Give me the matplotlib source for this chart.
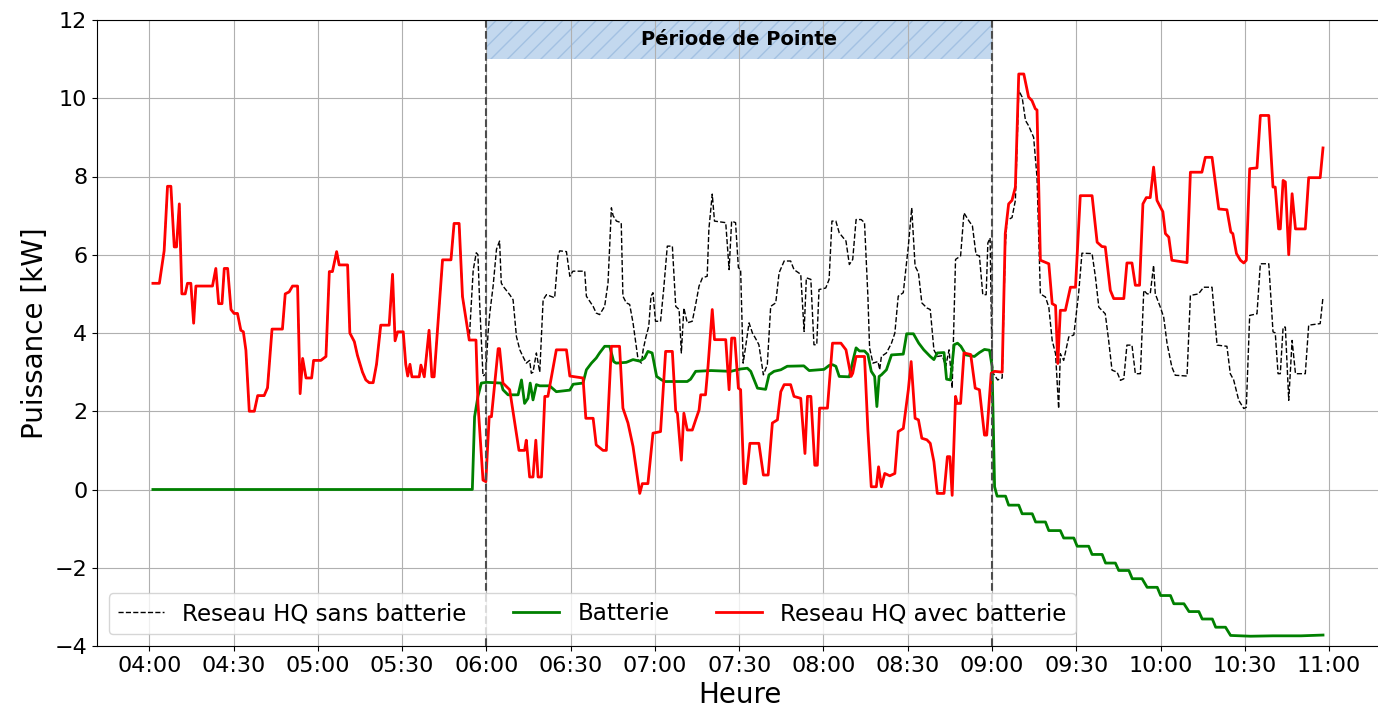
"""
Puissance appelée sur le réseau HQ avec et sans batterie (04:00 - 11:00).
Les valeurs ont été relevées à la main sur le graphique d'origine.
"""

import matplotlib

matplotlib.use("Agg")
import matplotlib.dates as mdates
import matplotlib.pyplot as plt
import pandas as pd

DAY_START = pd.Timestamp("2024-01-01 04:00")
PEAK_START_MIN = 120  # 06:00
PEAK_END_MIN = 300  # 09:00

# Avant la pointe, la batterie est au repos : les deux courbes réseau se confondent.
pre_peak_min = [
    1.3, 3.6, 5.3, 6.5, 7.7, 8.9, 9.7, 10.7, 11.6, 12.8, 13.6, 14.8, 15.8, 16.6, 22.5,
    23.7, 24.7, 25.9, 26.7, 27.9, 29.1, 30.2, 31.4, 32.6, 33.5, 34.4, 35.6, 37.4, 38.6,
    40.9, 42.1, 43.7, 47.4, 48.4, 49.8, 51.0, 52.8, 53.7, 54.6, 55.8, 57.8, 58.5, 61.1,
    62.9, 64.1, 65.2, 66.7, 67.6, 70.6, 71.4, 73.0, 74.1, 75.9, 77.1, 78.3, 79.7, 80.9,
    82.4, 85.4, 86.6, 87.5, 88.4, 90.4, 91.3, 92.0, 92.8, 93.5, 94.3, 96.1, 96.7, 97.9,
    99.6, 100.6, 101.4, 103.0, 104.4, 107.4, 108.5, 110.3, 111.5, 113.9,
]
pre_peak_kw = [
    5.27, 5.27, 6.1, 7.75, 7.75, 6.2, 6.2, 7.3, 5.0, 5.0, 5.27, 5.27, 4.25, 5.2, 5.2,
    5.65, 4.75, 4.75, 5.65, 5.65, 4.6, 4.5, 4.5, 4.07, 4.03, 3.56, 2.0, 2.0, 2.4,
    2.4, 2.6, 4.1, 4.1, 5.0, 5.05, 5.2, 5.2, 2.45, 3.35, 2.85, 2.85, 3.3, 3.3,
    3.4, 5.57, 5.57, 6.08, 5.74, 5.74, 4.0, 3.78, 3.43, 3.0, 2.8, 2.73, 2.73, 3.2,
    4.2, 4.2, 5.5, 3.8, 4.03, 4.03, 3.2, 2.9, 3.2, 2.88, 2.88, 2.88, 3.18, 2.88,
    4.07, 2.88, 2.88, 4.46, 5.87, 5.87, 6.8, 6.8, 4.93, 3.82,
]

# Reseau HQ sans batterie (après 05:54)
sans_min = [
    115.3, 116.4, 117.0, 117.6, 118.8, 119.8, 120.6, 121.2, 122.4, 123.6, 124.7, 125.3,
    125.9, 128.3, 129.5, 130.7, 131.9, 133.0, 134.2, 135.4, 136.0, 136.6, 137.8, 139.0,
    140.2, 141.4, 144.3, 145.5, 146.1, 148.5, 149.7, 150.8, 155.0, 155.6, 158.0, 159.1,
    160.3, 162.1, 163.3, 164.5, 165.1, 166.3, 168.0, 168.6, 169.8, 171.0, 172.2, 174.0,
    175.2, 175.8, 176.8, 177.8, 178.6, 179.3, 180.2, 182.0, 183.1, 184.4, 186.2, 187.4,
    188.6, 189.4, 190.3, 191.5, 193.3, 194.5, 195.7, 196.9, 198.6, 199.2, 200.4, 201.2,
    205.2, 206.4, 207.3, 208.7, 209.7, 210.5, 211.4, 212.3, 213.5, 214.7, 215.9, 217.0,
    218.6, 220.0, 221.2, 223.0, 224.2, 226.0, 228.3, 229.5, 231.9, 233.1, 233.9, 235.5,
    236.6, 237.6, 238.4, 240.8, 242.0, 243.0, 244.4, 245.6, 248.0, 249.2, 250.4, 251.6,
    253.4, 254.6, 255.8, 256.4, 257.6, 259.4, 260.0, 260.6, 262.4, 264.2, 265.4, 266.6,
    268.4, 270.2, 271.4, 272.6, 273.8, 275.0, 276.8, 278.0, 279.3, 280.5, 282.3, 283.5,
    284.7, 285.8, 287.0, 288.8, 290.0, 291.8, 293.0, 294.3, 295.5, 296.7, 297.9, 298.5,
    299.3, 300.0, 300.5, 302.0, 303.6, 304.7, 305.3, 307.1, 308.3, 309.5, 310.7, 311.9,
    313.0, 314.8, 316.0, 317.2, 319.0, 320.2, 321.4, 322.6, 323.7, 324.3, 325.5, 327.3,
    329.1, 330.8, 332.0, 335.6, 336.8, 338.0, 340.3, 341.5, 342.7, 344.5, 345.7, 346.9,
    348.0, 349.8, 351.0, 352.8, 354.0, 355.2, 356.3, 357.5, 358.1, 359.9, 361.1, 362.3,
    364.0, 365.2, 369.4, 370.6, 373.5, 375.3, 378.3, 380.1, 383.6, 384.8, 386.0, 387.8,
    389.6, 390.5, 391.7, 394.3, 395.5, 398.5, 400.0, 400.8, 401.8, 402.6, 403.6, 404.4,
    405.6, 406.8, 408.0, 411.5, 412.7, 416.8, 417.8,
]
sans_kw = [
    5.6, 6.05, 6.0, 4.77, 2.9, 2.95, 4.0, 4.5, 5.2, 6.14, 6.35, 5.28,
    5.2, 4.98, 4.85, 3.91, 3.57, 3.4, 3.23, 3.3, 2.97, 3.0, 3.49, 3.0,
    4.85, 4.98, 4.9, 5.97, 6.1, 6.08, 5.45, 5.58, 5.58, 4.94, 4.68, 4.51,
    4.47, 4.68, 5.28, 7.2, 7.0, 6.86, 6.82, 4.94, 4.77, 4.73, 4.26, 3.32,
    3.23, 3.57, 3.9, 4.17, 4.94, 5.03, 4.3, 4.3, 5.11, 6.22, 6.22, 4.68,
    4.6, 3.49, 4.64, 4.26, 4.3, 4.73, 5.2, 5.41, 5.45, 6.65, 7.55, 6.86,
    6.82, 5.62, 6.86, 6.82, 5.67, 5.62, 3.23, 3.66, 4.26, 4.0, 3.85, 3.7,
    2.93, 3.19, 4.68, 4.77, 5.54, 5.84, 5.84, 5.62, 5.5, 4.04, 5.41, 5.37,
    3.7, 3.7, 5.11, 5.15, 5.37, 6.86, 6.86, 6.56, 6.35, 5.75, 5.88, 6.9,
    6.9, 6.82, 4.94, 3.62, 3.23, 3.27, 3.06, 3.4, 3.49, 3.74, 4.0, 4.94,
    5.03, 6.22, 7.2, 5.71, 5.54, 4.77, 4.64, 4.6, 3.57, 3.4, 3.42, 3.15,
    3.57, 2.59, 5.88, 5.97, 7.07, 6.86, 6.74, 6.0, 5.97, 4.98, 4.98, 6.3,
    6.43, 3.2, 2.96, 2.8, 2.85, 6.2, 6.88, 6.95, 7.39, 10.2, 10.03, 9.43,
    9.3, 9.0, 7.98, 5.0, 4.92, 4.66, 3.81, 3.47, 2.07, 3.47, 3.3, 3.9,
    3.95, 5.0, 6.04, 6.03, 5.43, 4.66, 4.49, 3.81, 3.05, 3.0, 2.79, 2.83,
    3.69, 3.69, 2.96, 2.96, 5.09, 5.0, 5.0, 5.73, 5.0, 4.66, 4.4, 3.73,
    3.13, 2.92, 2.9, 4.96, 5.0, 5.17, 5.17, 3.69, 3.66, 2.96, 2.8, 2.28,
    2.07, 2.1, 4.45, 4.49, 5.77, 5.77, 4.03, 4.0, 2.96, 2.96, 4.15, 4.15,
    2.28, 3.81, 2.96, 2.96, 4.2, 4.24, 4.92,
]

# Batterie (positif = décharge, négatif = recharge)
batterie_min = [
    1.3, 115.0, 115.8, 117.0, 118.2, 120.0, 125.3, 125.9, 127.7, 131.3, 132.5, 133.6,
    134.8, 135.6, 136.6, 137.8, 139.0, 142.5, 144.9, 149.7, 150.9, 154.4, 155.6, 157.4,
    159.1, 160.3, 162.1, 163.9, 165.3, 166.2, 169.8, 172.2, 174.6, 176.3, 177.5, 179.0,
    180.6, 182.4, 183.6, 191.5, 192.7, 194.5, 200.0, 207.0, 210.5, 212.9, 214.1, 216.5,
    219.4, 220.6, 222.4, 224.8, 227.1, 233.0, 234.9, 240.2, 242.0, 243.2, 244.4, 245.6,
    249.2, 250.4, 251.6, 252.8, 254.6, 255.8, 257.0, 258.2, 259.0, 259.8, 260.6, 262.4,
    264.2, 268.4, 269.6, 272.0, 273.9, 275.7, 278.0, 279.3, 280.5, 282.9, 283.8, 285.2,
    286.5, 287.7, 288.9, 290.7, 293.7, 295.5, 297.3, 299.1, 300.0, 300.9, 301.8, 304.8,
    305.9, 309.5, 310.7, 314.3, 315.5, 319.0, 320.2, 324.3, 325.5, 329.1, 330.3, 334.4,
    335.6, 339.2, 340.4, 343.9, 345.1, 348.7, 349.9, 353.4, 355.2, 358.8, 360.0, 363.5,
    364.7, 368.3, 370.1, 373.6, 374.8, 378.4, 379.6, 383.1, 384.9, 392.0, 400.0, 410.0,
    417.8,
]
batterie_kw = [
    0.0, 0.0, 1.86, 2.38, 2.72, 2.74, 2.72, 2.55, 2.42, 2.42, 2.8, 2.2,
    2.33, 2.72, 2.29, 2.68, 2.65, 2.65, 2.5, 2.54, 2.69, 2.72, 3.06, 3.23,
    3.36, 3.49, 3.66, 3.66, 3.27, 3.23, 3.25, 3.32, 3.28, 3.36, 3.53, 3.49,
    2.89, 2.8, 2.76, 2.76, 2.82, 3.02, 3.04, 3.02, 3.08, 3.1, 3.02, 2.59,
    2.56, 2.93, 3.02, 3.06, 3.15, 3.16, 3.04, 3.07, 3.17, 3.19, 3.15, 2.89,
    2.88, 3.27, 3.62, 3.54, 3.54, 3.45, 3.02, 2.89, 2.12, 2.89, 2.93, 3.06,
    3.44, 3.46, 3.98, 3.98, 3.74, 3.57, 3.4, 3.32, 3.49, 3.5, 2.82, 2.8,
    3.7, 3.74, 3.66, 3.44, 3.4, 3.5, 3.58, 3.56, 3.15, 0.07, -0.17, -0.17,
    -0.4, -0.4, -0.62, -0.62, -0.83, -0.83, -1.05, -1.05, -1.24, -1.24, -1.45, -1.45,
    -1.66, -1.66, -1.88, -1.88, -2.07, -2.07, -2.28, -2.28, -2.5, -2.5, -2.71, -2.71,
    -2.92, -2.92, -3.12, -3.12, -3.31, -3.31, -3.52, -3.52, -3.73, -3.75, -3.74, -3.74,
    -3.72,
]

# Reseau HQ avec batterie (après 05:54)
avec_min = [
    116.3, 117.0, 118.8, 119.8, 121.0, 121.8, 124.2, 124.7, 125.9, 128.3, 130.1, 131.6,
    133.6, 134.2, 135.4, 136.6, 137.6, 138.4, 139.6, 140.8, 141.9, 144.9, 148.5, 149.7,
    154.4, 155.4, 158.0, 159.1, 161.5, 162.7, 164.5, 167.4, 168.6, 170.4, 172.2, 174.6,
    175.5, 177.5, 179.3, 182.0, 183.8, 186.2, 187.4, 188.0, 189.4, 190.3, 191.5, 193.3,
    194.5, 195.7, 196.3, 198.0, 198.9, 200.4, 201.2, 205.2, 206.4, 207.3, 208.4, 209.7,
    210.5, 211.7, 212.3, 213.8, 217.0, 218.6, 220.3, 221.8, 223.6, 224.8, 226.0, 228.3,
    229.5, 231.9, 233.4, 234.3, 235.5, 236.9, 237.8, 238.6, 241.4, 243.2, 246.2, 248.0,
    249.8, 250.4, 251.6, 254.6, 255.8, 257.0, 258.8, 259.6, 260.6, 261.8, 263.6, 265.4,
    266.6, 268.4, 270.2, 271.2, 272.6, 273.8, 275.0, 276.8, 278.0, 279.3, 280.5, 282.9,
    284.1, 285.0, 285.8, 287.0, 287.6, 288.8, 290.0, 292.4, 294.0, 295.5, 297.3, 298.1,
    299.7, 300.9, 303.6, 304.7, 305.9, 307.1, 308.3, 309.5, 311.3, 313.0, 314.2, 315.4,
    316.0, 317.2, 320.2, 321.4, 322.6, 323.4, 324.3, 326.1, 327.9, 329.7, 331.4, 335.6,
    337.4, 339.1, 340.3, 342.1, 343.3, 346.9, 348.0, 349.8, 351.0, 352.5, 353.7, 354.9,
    356.3, 357.5, 358.7, 359.9, 360.8, 361.7, 362.9, 364.0, 369.4, 370.6, 374.7, 375.9,
    378.3, 380.7, 383.6, 385.0, 385.7, 387.0, 388.4, 389.6, 390.5, 391.7, 394.3, 395.5,
    398.5, 400.0, 400.8, 402.0, 402.6, 403.6, 404.4, 405.6, 406.8, 408.0, 411.5, 412.7,
    416.8, 417.8,
]
avec_kw = [
    3.82, 2.2, 0.24, 0.2, 1.86, 1.86, 3.6, 3.6, 2.72, 2.55, 1.7, 1.0,
    1.0, 1.26, 0.32, 0.32, 1.26, 0.32, 0.32, 2.38, 2.38, 3.57, 3.57, 2.9,
    2.85, 1.82, 1.82, 1.14, 1.0, 1.0, 3.66, 3.66, 2.08, 1.7, 1.1, -0.1,
    0.15, 0.15, 1.44, 1.48, 3.53, 3.53, 2.0, 1.95, 0.75, 1.95, 1.52, 1.52,
    1.78, 2.03, 2.42, 2.42, 3.15, 4.6, 3.83, 3.83, 2.55, 3.87, 3.87, 2.59,
    2.55, 0.15, 0.15, 1.18, 1.18, 0.37, 0.37, 1.7, 1.78, 2.5, 2.68, 2.68,
    2.38, 2.33, 0.92, 2.38, 2.38, 0.62, 0.62, 2.08, 2.08, 3.74, 3.74, 3.57,
    2.89, 2.97, 3.4, 3.4, 1.52, 0.07, 0.07, 0.58, 0.07, 0.41, 0.35, 0.41,
    1.48, 1.56, 2.55, 3.27, 1.82, 1.78, 1.31, 1.27, 1.18, 0.71, -0.1, -0.1,
    0.84, 0.84, -0.15, 2.38, 2.2, 2.2, 3.49, 3.45, 2.59, 2.55, 1.39, 1.39,
    2.97, 3.02, 3.0, 6.54, 7.3, 7.39, 7.73, 10.62, 10.62, 10.03, 9.94, 9.73,
    9.7, 5.86, 5.77, 4.75, 4.7, 3.22, 4.58, 4.58, 5.17, 5.17, 7.51, 7.51,
    6.32, 6.21, 6.2, 5.09, 4.88, 4.88, 5.79, 5.79, 5.22, 5.22, 7.3, 7.46,
    7.46, 8.24, 7.39, 7.22, 7.1, 6.54, 6.45, 5.86, 5.8, 8.11, 8.11, 8.49,
    8.49, 7.17, 7.15, 6.58, 6.54, 6.03, 5.86, 5.79, 5.86, 8.2, 8.22, 9.56,
    9.56, 7.73, 7.73, 6.66, 6.66, 7.9, 7.86, 6.0, 7.56, 6.66, 6.66, 7.97,
    7.97, 8.73,
]


def to_time(minutes):
    return (DAY_START + pd.to_timedelta(minutes, unit="min")).to_numpy()


def main() -> None:
    fig = plt.figure(figsize=(13.78, 7.09), dpi=100)
    # the original picture is cropped just before the right spine
    ax = fig.add_axes([97 / 1378, 63 / 709, 1285 / 1378, 626 / 709])
    ax.spines["right"].set_visible(False)

    ax.plot(to_time(pre_peak_min + sans_min), pre_peak_kw + sans_kw,
            color="black", ls="--", lw=1.0, label="Reseau HQ sans batterie")
    ax.plot(to_time(batterie_min), batterie_kw,
            color="green", lw=2.0, label="Batterie")
    ax.plot(to_time(pre_peak_min + avec_min), pre_peak_kw + avec_kw,
            color="red", lw=2.0, label="Reseau HQ avec batterie")

    t_start, t_end = to_time([PEAK_START_MIN, PEAK_END_MIN])
    for t in (t_start, t_end):
        ax.axvline(t, color="0.3", ls="--", lw=1.5)
    ax.fill_between([t_start, t_end], 11, 12, facecolor="#c3d8ee",
                    edgecolor="#a3c1e2", hatch="//", lw=0)
    t_mid = to_time([(PEAK_START_MIN + PEAK_END_MIN) / 2])[0]
    ax.text(t_mid, 11.5, "Période de Pointe", ha="center", va="center",
            fontsize=14, fontweight="bold")

    ax.set_xlim(to_time([-18.6, 438.8]))
    ax.set_ylim(-4, 12)
    ax.set_yticks(range(-4, 13, 2))
    ax.xaxis.set_major_locator(mdates.MinuteLocator(byminute=[0, 30]))
    ax.xaxis.set_major_formatter(mdates.DateFormatter("%H:%M"))
    ax.tick_params(labelsize=16)
    ax.grid(True)

    ax.set_xlabel("Heure", fontsize=20)
    ax.set_ylabel("Puissance [kW]", fontsize=20)
    ax.legend(loc="lower left", ncol=3, fontsize=16.6)

    fig.savefig("out.png", dpi=100)
    plt.close(fig)


if __name__ == "__main__":
    main()
